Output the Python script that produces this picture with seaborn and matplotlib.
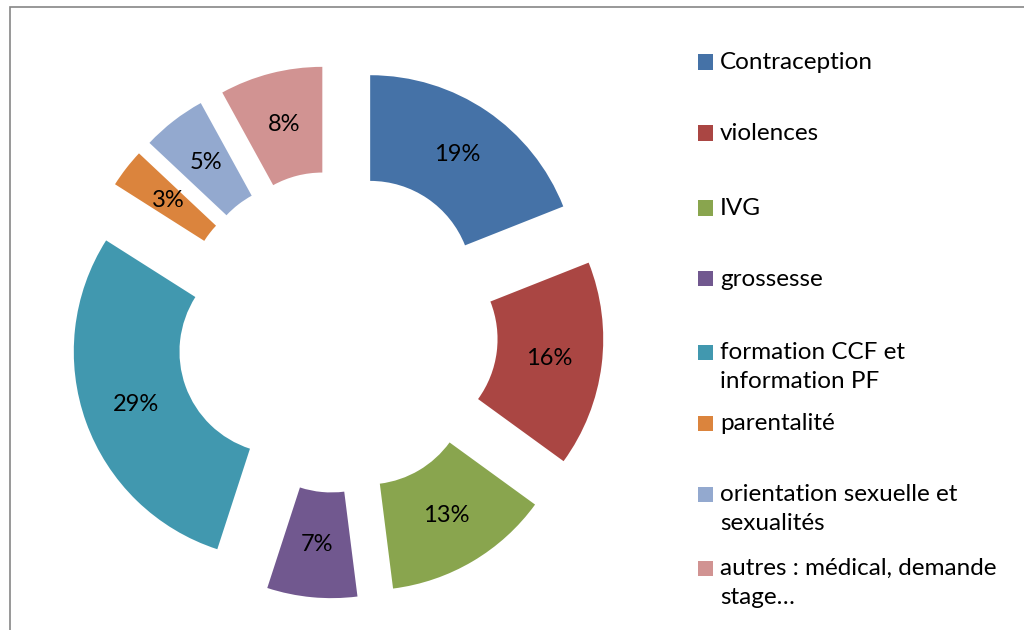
import matplotlib
matplotlib.use("Agg")
import matplotlib.pyplot as plt
import seaborn as sns
from matplotlib.patches import Rectangle

# Data
categories = ["Contraception", "violences", "IVG", "grossesse",
              "formation CCF et\ninformation PF", "parentalité",
              "orientation sexuelle et\nsexualités",
              "autres : médical, demande\nstage…"]
values = [19, 16, 13, 7, 29, 3, 5, 8]
colors = ["#4572A7", "#AA4643", "#89A54E", "#71588F",
          "#4198AF", "#DB843D", "#93A9CF", "#D19392"]

sns.set_theme(style="white")
plt.rcParams['font.family'] = ['Lato', 'DejaVu Sans']
palette = sns.color_palette(colors)

W, H = 1024, 630
fig = plt.figure(figsize=(W / 100, H / 100), dpi=100)
ax = fig.add_axes([0, 0, 1, 1])

# donut geometry in pixel units
cx, cy = 337, H - 331.7
R = 207.7
hole = 102
gap = 59

wedges, texts, autotexts = ax.pie(
    values, colors=palette, startangle=90, counterclock=False,
    explode=[gap] * len(values), center=(cx, cy), radius=R,
    autopct=lambda p: f"{p:.0f}%", pctdistance=0.745,
    wedgeprops=dict(width=R - hole, linewidth=0),
    textprops=dict(fontsize=17, color="black"))

ax.set_xlim(0, W)
ax.set_ylim(0, H)
ax.set_aspect("equal")
ax.axis("off")

# legend, placed like the Excel one
legend_y = [62, 133, 208, 279, 352, 423, 494, 568]
for lab, col, y in zip(categories, palette, legend_y):
    fig.add_artist(Rectangle((698 / W, 1 - (y + 7.5) / H), 15 / W, 15 / H,
                             transform=fig.transFigure, color=col, lw=0))
    fig.text(720 / W, 1 - (y - 10) / H, lab, fontsize=17.5, va="top",
             ha="left", color="black", linespacing=1.5)

# chart border
fig.add_artist(Rectangle((10 / W, -0.05), 1.1, 1 - 7 / H + 0.05,
                         transform=fig.transFigure, fill=False,
                         edgecolor="#868686", lw=1.2))

fig.savefig("out.png", dpi=100)
